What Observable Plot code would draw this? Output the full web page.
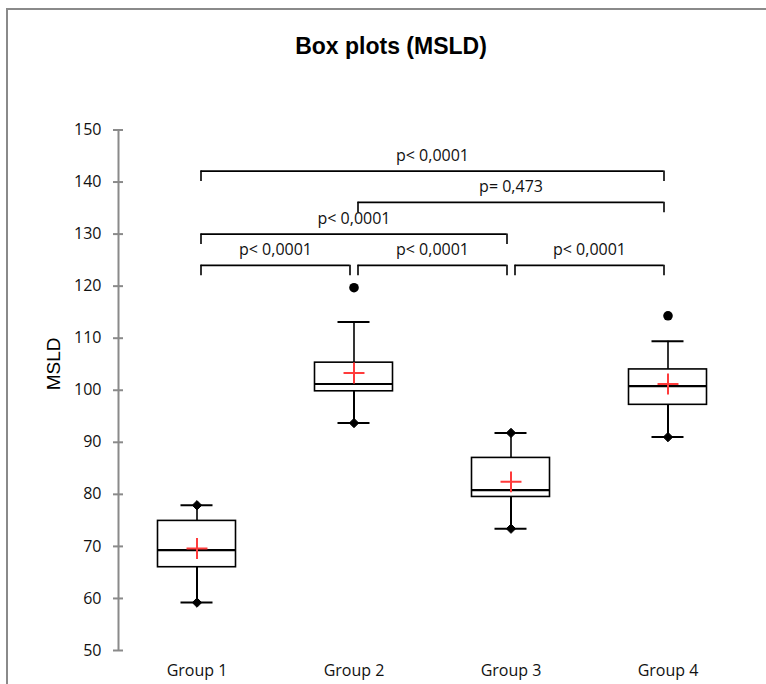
<!DOCTYPE html>
<html>
<head>
<meta charset="utf-8">
<script src="https://cdn.jsdelivr.net/npm/d3@7"></script>
<script src="https://cdn.jsdelivr.net/npm/@observablehq/plot@0.6"></script>
<style>
  html, body { margin: 0; padding: 0; background: #fff; overflow: hidden; width: 766px; height: 684px; }
  #wrap { position: relative; width: 766px; height: 684px; overflow: hidden; }
  .edge { position: absolute; background: #8a8a8a; }
  #edgeLeft { left: 6px; top: 8px; width: 2px; height: 676px; }
  #edgeTop { left: 6px; top: 8px; width: 760px; height: 2px; }
  #title { position: relative; height: 70px; width: 766px; text-align: center;
           font: bold 23px "Liberation Sans", Arial, sans-serif; color: #000;
           line-height: 1; padding-top: 35px; padding-left: 16px; box-sizing: border-box; }
  #chart { position: relative; height: 614px; }
  #chart svg { display: block; }
</style>
</head>
<body>
<div id="wrap">
  <div class="edge" id="edgeLeft"></div>
  <div class="edge" id="edgeTop"></div>
  <div id="title">Box plots (MSLD)</div>
  <div id="chart"></div>
</div>
<script>
// ---- data ----
const groups = ["Group 1", "Group 2", "Group 3", "Group 4"];
const minimum = [59.2, 93.7, 73.4, 91.0];
const q1 = [66.0, 99.8, 79.5, 97.2];
const median = [69.3, 101.2, 80.8, 100.8];
const q3 = [74.9, 105.3, 87.0, 104.0];
const upperWhisker = [77.9, 113.1, 91.8, 109.4];
const maximum = [77.9, 119.7, 91.8, 114.3];
const means = [69.6, 103.3, 82.4, 101.2];

const bracketFrom = [1, 2, 1, 1, 2, 3];
const bracketTo = [4, 4, 3, 2, 3, 4];
const bracketLevel = [142.1, 136.1, 130.0, 124.0, 124.0, 124.0];
const bracketLabels = ["p< 0,0001", "p= 0,473", "p< 0,0001", "p< 0,0001", "p< 0,0001", "p< 0,0001"];
const bracketDrop = 2;

const yTicks = [50, 60, 70, 80, 90, 100, 110, 120, 130, 140, 150];

// ---- tables built from the arrays ----
const boxes = groups.map((g, k) => ({
  i: k + 1, name: g, min: minimum[k], q1: q1[k], med: median[k], q3: q3[k],
  hi: upperWhisker[k], max: maximum[k], mean: means[k]
}));
const diamonds = [
  ...boxes.map(b => ({i: b.i, v: b.min})),
  ...boxes.filter(b => b.max === b.hi).map(b => ({i: b.i, v: b.max}))
];
const outliers = boxes.filter(b => b.max > b.hi).map(b => ({i: b.i, v: b.max}));
const brackets = bracketFrom.map((a, k) => ({
  a, b: bracketTo[k], y: bracketLevel[k], label: bracketLabels[k]
}));

const ink = "#000";
const chart = Plot.plot({
  width: 766,
  height: 614,
  marginTop: 59.5,
  marginBottom: 34,
  marginLeft: 118,
  marginRight: 20,
  style: {fontFamily: "'Open Sans', sans-serif", fontSize: "16px", color: "#111", background: "transparent"},
  x: {type: "linear", domain: [0.5, 4.5]},
  y: {domain: [50, 150]},
  marks: [
    // y axis line and crossing ticks
    Plot.ruleX([0.5], {x: d => d, y1: 50, y2: 150, stroke: "#8a8a8a", strokeWidth: 2}),
    Plot.axisY({ticks: yTicks, text: null, tickSize: 10, dx: 5, stroke: "#8a8a8a", strokeWidth: 2, label: null}),
    Plot.axisY({ticks: yTicks, tickSize: 0, tickPadding: 17, label: null, fill: "#111", fontSize: 16}),
    Plot.axisX({ticks: [1, 2, 3, 4], tickFormat: i => groups[i - 1], tickSize: 0, tickPadding: 14, label: null, fill: "#111", fontSize: 16}),
    Plot.text(["MSLD"], {frameAnchor: "left", rotate: -90, dx: -65, text: d => d,
      fontFamily: "'Liberation Sans', Arial, sans-serif", fontSize: 19, fill: "#000"}),
    // whiskers
    Plot.ruleX(boxes, {x: "i", y1: "min", y2: "q1", stroke: ink, strokeWidth: 2}),
    Plot.ruleX(boxes, {x: "i", y1: "q3", y2: "hi", stroke: ink, strokeWidth: 1.6}),
    Plot.ruleY(boxes, {x1: "i", x2: "i", y: "min", insetLeft: -16, insetRight: -16, stroke: ink, strokeWidth: 2}),
    Plot.ruleY(boxes, {x1: "i", x2: "i", y: "hi", insetLeft: -16, insetRight: -16, stroke: ink, strokeWidth: 2}),
    // boxes
    Plot.rect(boxes, {x1: "i", x2: "i", y1: "q1", y2: "q3", insetLeft: -39, insetRight: -39,
      fill: "#fff", stroke: ink, strokeWidth: 1.6}),
    Plot.ruleY(boxes, {x1: "i", x2: "i", y: "med", insetLeft: -39, insetRight: -39, stroke: ink, strokeWidth: 2.2}),
    // min/max markers and outliers
    Plot.dot(diamonds, {x: "i", y: "v", symbol: "diamond2", r: 4.2, fill: ink, stroke: ink, strokeWidth: 1}),
    Plot.dot(outliers, {x: "i", y: "v", r: 4.8, fill: ink, stroke: "none"}),
    // means
    Plot.dot(boxes, {x: "i", y: "mean", symbol: "plus", r: 6.8, stroke: "#ff3b3b", strokeWidth: 2}),
    // significance brackets
    Plot.ruleY(brackets, {x1: "a", x2: "b", y: "y", insetLeft: 4, insetRight: 4, stroke: ink, strokeWidth: 1.6}),
    Plot.ruleX(brackets, {x: "a", y1: "y", y2: d => d.y - bracketDrop, dx: 4, stroke: ink, strokeWidth: 1.6}),
    Plot.ruleX(brackets, {x: "b", y1: "y", y2: d => d.y - bracketDrop, dx: -4, stroke: ink, strokeWidth: 1.6}),
    Plot.text(brackets, {x: d => (d.a + d.b) / 2, y: "y", text: "label", lineAnchor: "bottom", dy: -10,
      fontSize: 16, fill: "#111"})
  ]
});
document.getElementById("chart").appendChild(chart);
</script>
</body>
</html>
